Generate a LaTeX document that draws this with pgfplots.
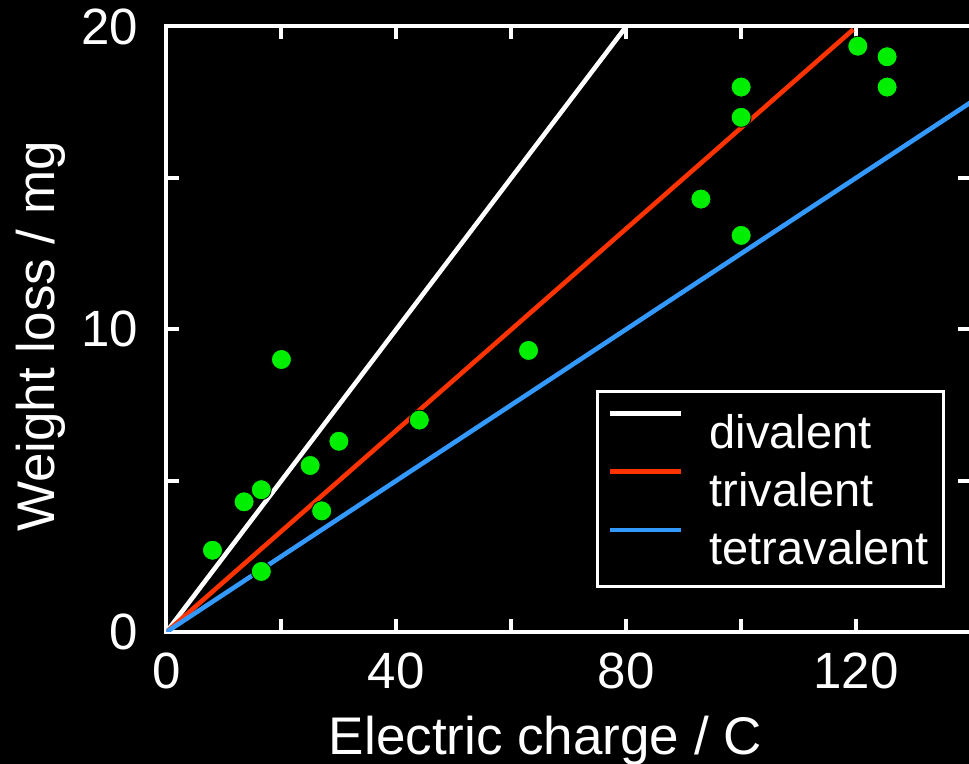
\documentclass[border=0pt]{standalone}
\usepackage{pgfplots}
\pgfplotsset{compat=1.18}
\usepackage{fontspec}
\setmainfont{Liberation Sans}
\usetikzlibrary{backgrounds}
\definecolor{ptgreen}{RGB}{0,238,0}
\definecolor{linered}{RGB}{255,51,0}
\definecolor{lineblue}{RGB}{51,153,255}
\begin{document}
\begin{tikzpicture}
\begin{axis}[
  name=ax, anchor=south west, at={(0,0)},
  scale only axis, width=402.25pt, height=302.75pt,
  xmin=0, xmax=140, ymin=0, ymax=20,
  xtick={0,40,80,120}, ytick={0,10,20},
  minor xtick={20,60,100,140}, minor ytick={5,15},
  axis line style={white, line width=2pt},
  tick style={white, line width=2pt},
  major tick length=6.5pt, minor tick length=6.5pt,
  tick align=inside,
  /pgf/number format/assume math mode=true,
  tick label style={white, font=\fontsize{25.5}{30}\selectfont},
  xticklabel style={inner sep=0pt, yshift=-10pt},
  yticklabel style={inner sep=0pt, xshift=-14pt},
  every axis x label/.style={at={(axis description cs:0.471,-0.203)}, anchor=base, white, font=\fontsize{26.5}{32}\selectfont},
  every axis y label/.style={at={(axis description cs:-0.139,0.488)}, rotate=90, anchor=base, white, font=\fontsize{26.5}{32}\selectfont},
  xlabel={Electric charge / C},
  ylabel={Weight loss / mg},
  legend cell align=left,
  legend style={at={(axis description cs:0.9677,0.4)}, anchor=north east,
    draw=white, line width=1.5pt, fill=black, text=white,
    font=\fontsize{23.5}{28}\selectfont,
    inner xsep=5pt, inner ysep=3pt, row sep=-4.5pt,
    nodes={inner sep=0pt, text height=25.5pt, text depth=8pt},
    /tikz/every odd column/.append style={column sep=13pt},
    /tikz/every even column/.append style={text width=112pt}},
  legend image code/.code={\draw[#1] (0pt,8.5pt) -- (35.5pt,8.5pt);},
]
\addplot[white, line width=2.3pt] coordinates {(0,0) (80,20)};
\addlegendentry{divalent}
\addplot[linered, line width=2.3pt] coordinates {(0,0) (119.5,19.9)};
\addlegendentry{trivalent}
\addplot[lineblue, line width=2.3pt] coordinates {(0,0) (140,17.5)};
\addlegendentry{tetravalent}
\addplot[only marks, mark=*, mark size=5pt, mark options={fill=ptgreen, draw=none}, forget plot] coordinates {
(8,2.7) (13.5,4.3) (16.5,4.7) (16.5,2.0) (20,9.0) (25,5.5) (27,4.0) (30,6.3)
(44,7.0) (63,9.3) (93,14.3) (100,18.0) (100,17.0) (100,13.1) (120.3,19.35)
(125.4,19.0) (125.4,18.0)};
\end{axis}
\pgfresetboundingbox
\begin{pgfonlayer}{background}
\fill[black] (-83.25pt,-66pt) rectangle (401.25pt,316pt);
\end{pgfonlayer}
\useasboundingbox (-83.25pt,-66pt) rectangle (401.25pt,316pt);
\end{tikzpicture}
\end{document}
